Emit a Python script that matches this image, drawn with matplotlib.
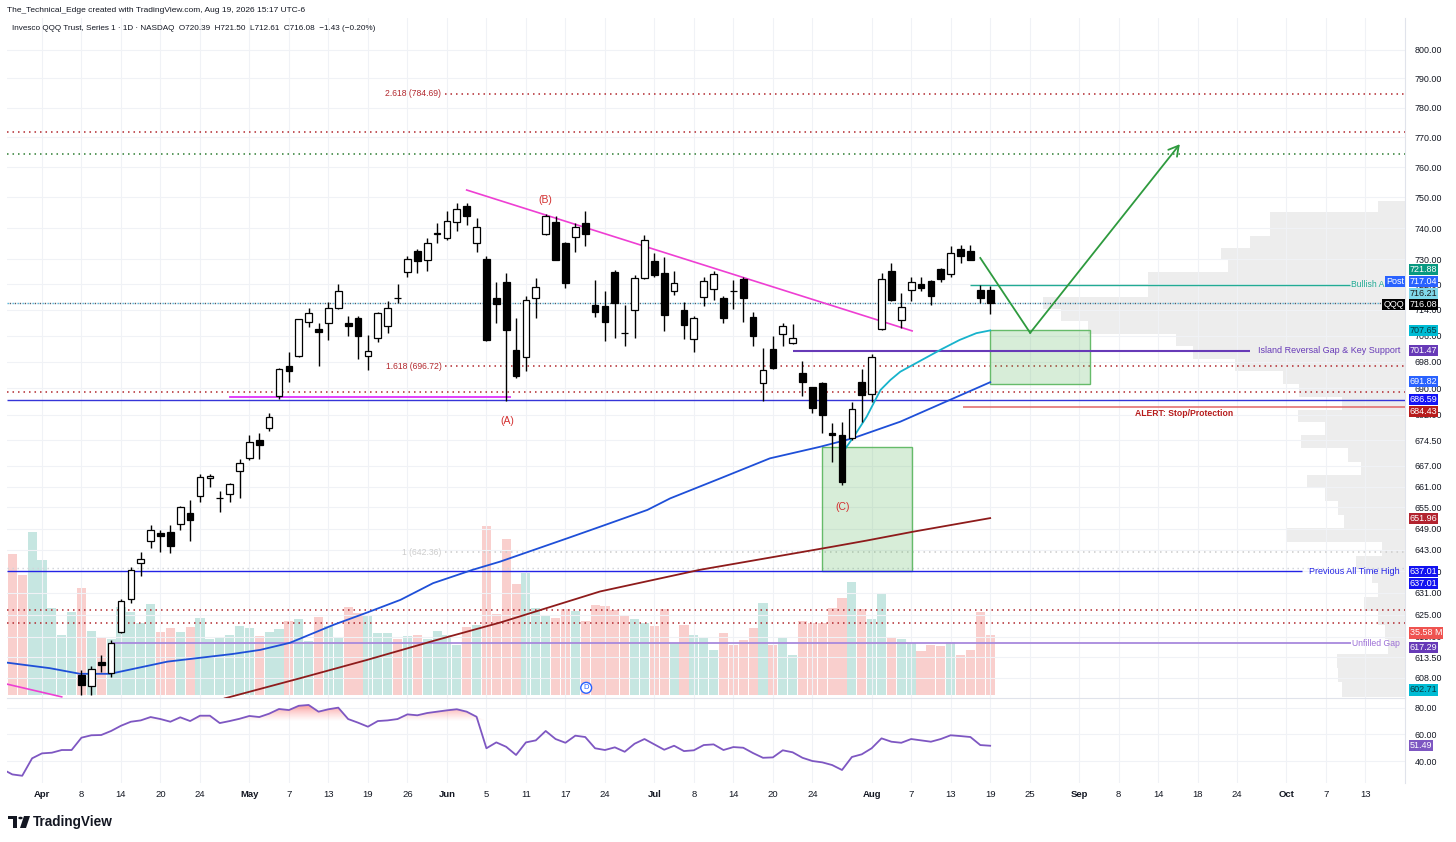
import numpy as np
import matplotlib
matplotlib.use("Agg")
import matplotlib.pyplot as plt
from matplotlib import transforms
from matplotlib.ticker import FixedLocator, NullLocator, FuncFormatter, NullFormatter
from matplotlib.patches import Rectangle, Circle, Polygon
from matplotlib.colors import LinearSegmentedColormap

plt.rcParams["font.family"] = ["Liberation Sans", "DejaVu Sans"]

# ---------------- data (x = trading-day index, 0 = Apr 1) ----------------
first_bar = 4
opens = [608.8, 605.9, 612.3, 609.4, 620.2, 629.2, 639.4, 645.5, 647.7, 648.0,
         650.2, 653.5, 658.4, 663.5, 657.6, 658.9, 665.4, 669.3, 674.6, 678.0,
         687.8, 696.6, 699.8, 710.4, 708.0, 709.9, 714.6, 710.1, 711.4, 699.8,
         705.3, 709.1, 717.8, 725.8, 732.7, 729.6, 738.1, 736.7, 742.1, 747.2,
         735.3, 730.0, 717.7, 722.9, 701.6, 699.4, 717.7, 738.1, 742.1, 735.1,
         737.0, 741.8, 715.6, 715.3, 725.8, 707.0, 714.0, 724.0, 729.3, 725.6,
         720.0, 714.0, 705.0, 718.2, 720.5, 717.7, 720.0, 723.7, 711.9, 691.5,
         701.9, 706.6, 703.8, 694.5, 690.3, 691.7, 676.7, 676.0, 675.1, 692.0,
         688.3, 708.0, 726.1, 711.0, 720.1, 722.1, 723.2, 726.9, 725.2, 733.2,
         732.7, 720.1, 720.39]
highs = [610.1, 611.1, 614.1, 618.1, 629.2, 638.1, 642.5, 650.0, 648.7, 650.0,
         655.5, 657.0, 664.5, 664.5, 659.6, 662.1, 669.0, 676.1, 676.6, 682.7,
         696.1, 701.1, 711.1, 714.6, 710.1, 716.4, 722.0, 712.0, 712.2, 706.3,
         713.5, 716.7, 722.1, 731.1, 733.2, 736.7, 741.6, 745.4, 748.3, 748.3,
         743.2, 731.1, 722.9, 725.6, 711.4, 718.4, 724.0, 744.6, 743.8, 735.6,
         741.6, 745.4, 723.5, 719.8, 726.6, 715.6, 725.0, 737.9, 732.0, 730.7,
         726.1, 716.4, 712.0, 724.3, 726.1, 718.4, 723.5, 724.5, 713.5, 702.3,
         705.8, 710.1, 709.6, 698.3, 690.5, 692.0, 679.7, 680.0, 685.9, 695.8,
         700.5, 725.6, 728.8, 719.3, 724.5, 724.5, 723.5, 727.2, 734.1, 734.7,
         734.7, 721.9, 721.50]
lows = [603.6, 603.6, 609.7, 608.3, 620.0, 628.3, 635.7, 643.6, 642.4, 642.1,
        648.5, 645.5, 656.7, 660.8, 653.8, 656.7, 657.7, 668.8, 669.0, 677.3,
        686.7, 691.9, 699.6, 708.8, 696.6, 704.8, 714.4, 705.8, 698.8, 695.4,
        704.0, 706.8, 716.2, 724.3, 725.6, 726.4, 735.1, 736.1, 739.2, 741.0,
        732.4, 704.3, 710.1, 686.2, 693.1, 695.1, 711.4, 737.8, 729.6, 720.8,
        732.4, 734.2, 711.9, 704.3, 705.3, 702.8, 705.3, 723.7, 724.5, 707.6,
        718.7, 705.0, 701.1, 715.3, 717.2, 710.1, 714.2, 710.4, 702.8, 686.2,
        695.8, 703.0, 703.6, 687.7, 682.5, 676.7, 668.0, 661.4, 674.6, 680.0,
        686.0, 707.8, 716.7, 708.3, 716.7, 719.8, 715.6, 722.9, 724.2, 728.8,
        729.6, 716.2, 712.61]
closes = [606.1, 610.4, 611.5, 617.4, 628.7, 637.3, 640.5, 648.7, 646.8, 644.2,
          655.1, 651.4, 663.8, 664.2, 657.8, 661.6, 667.8, 674.1, 673.0, 681.5,
          695.8, 695.1, 711.1, 713.2, 707.3, 714.6, 719.8, 708.9, 705.8, 701.4,
          713.0, 714.6, 717.7, 730.0, 729.5, 735.3, 738.3, 742.4, 746.1, 743.9,
          740.5, 704.8, 715.9, 707.8, 693.6, 717.2, 721.1, 743.9, 729.8, 722.4,
          740.5, 738.1, 713.5, 710.4, 716.1, 706.7, 724.0, 736.3, 725.0, 712.5,
          722.6, 709.4, 711.4, 723.1, 725.3, 711.6, 719.9, 717.7, 706.0, 695.4,
          696.1, 708.9, 705.3, 691.8, 684.0, 682.0, 676.2, 662.2, 683.8, 688.0,
          699.5, 723.7, 717.2, 714.9, 722.9, 720.8, 718.4, 723.7, 732.0, 731.1,
          729.8, 717.7, 716.08]

vol_start = -3
volume_m = [83.6, 71.2, 96.7, 80.1, 51.6, 35.6, 49.2, 63.5, 38.0, 34.4,
            33.2, 52.2, 49.2, 42.7, 54.0, 37.4, 39.7, 37.4, 40.3, 45.7,
            33.2, 34.4, 35.6, 40.9, 39.7, 35.0, 37.4, 39.1, 43.9, 45.1,
            32.0, 46.3, 40.9, 33.8, 52.2, 48.6, 47.4, 36.8, 36.8, 33.2,
            35.0, 35.6, 33.2, 38.0, 35.6, 29.7, 40.3, 41.5, 100.2, 48.0,
            92.5, 65.8, 72.3, 51.6, 46.8, 45.7, 51.0, 49.8, 43.9, 53.4,
            52.8, 50.4, 47.4, 45.1, 42.7, 40.9, 51.0, 30.8, 41.5, 35.6,
            33.8, 26.7, 36.8, 29.7, 32.6, 39.7, 54.6, 29.7, 33.8, 23.7,
            43.9, 42.7, 42.7, 51.6, 57.5, 67.0, 51.0, 45.1, 60.5, 33.8,
            33.2, 30.8, 26.1, 29.7, 29.1, 31.4, 23.7, 26.7, 49.2, 35.58]
early_up = [False, False, True, True, True, True, True]   # bars -3..3 (candles off-scale)

rsi_start = -4
rsi = [34.0, 30.1, 29.1, 42.1, 45.8, 46.3, 48.3, 48.3, 57.5, 59.3,
       59.5, 62.5, 66.4, 69.4, 70.4, 72.9, 71.4, 69.4, 72.7, 69.9,
       73.9, 73.9, 68.4, 69.9, 71.6, 73.7, 72.9, 75.4, 78.9, 78.1,
       81.3, 81.9, 76.9, 78.7, 79.9, 71.4, 68.7, 65.7, 69.9, 70.4,
       71.4, 74.9, 74.2, 75.9, 76.9, 77.9, 78.7, 76.9, 73.1, 49.6,
       54.0, 50.7, 44.6, 54.0, 55.5, 62.5, 56.5, 53.7, 59.0, 58.0,
       49.6, 48.3, 50.3, 47.0, 53.0, 56.5, 52.5, 48.5, 51.5, 47.5,
       48.1, 52.0, 52.5, 48.3, 50.5, 50.0, 46.0, 42.5, 42.8, 48.1,
       46.6, 42.5, 40.1, 39.1, 37.1, 33.4, 43.1, 45.1, 49.6, 57.0,
       54.5, 53.7, 56.5, 55.5, 54.5, 56.5, 59.3, 58.7, 58.0, 52.0, 51.49]

ma50_x = [-3.6, 0.8, 3.85, 6.9, 12.7, 19.3, 22.1, 25.1, 29.5, 32.9, 36.3, 39.6,
          43.6, 46.4, 53.2, 56.5, 61.3, 63.6, 68.7, 73.7, 78.8, 82.1, 86.9, 96]
ma50 = [612.1, 610.6, 609.1, 609.1, 612.35, 614.4, 615.5, 617.4, 622.25, 625.6,
        629.1, 633.7, 637.4, 639.7, 646.25, 649.5, 654.3, 657.6, 663.4, 669.2,
        672.6, 675.1, 680.0, 691.82]
ma200_x = [18.5, 26.1, 32.9, 39.6, 46.4, 56.5, 66.6, 76.8, 80.1, 83.5, 88.2, 96]
ma200 = [602.6, 607.9, 612.8, 617.9, 622.9, 631.4, 637.4, 642.3, 643.9, 645.6,
         648.1, 651.96]
ema_x = [81.0, 82.2, 83.5, 84.9, 85.9, 86.9, 91.1, 92.9, 94.6, 96]
ema = [670.7, 675.6, 681.5, 689.5, 692.5, 695.0, 701.9, 704.7, 706.8, 707.65]

# visible-range volume profile (rows of equal price height, top row first)
vp_top, vp_step = 748.9, 3.84
vp_volume = [27, 135, 135, 155, 184, 177, 257, 257, 362, 344, 317, 229, 212, 170,
             122, 106, 63, 107, 80, 104, 57, 44, 98, 80, 67, 61, 119, 23, 49, 33,
             27, 41, 27, 20, 17, 68, 67, 63]

price_ticks = [800, 790, 780, 770, 760, 750, 740, 730, 722, 714, 706, 698, 690,
               682, 674.5, 667, 661, 655, 649, 643, 637, 631, 625, 619, 613.5, 608]
xtick_bars = [0, 4, 8, 12, 16, 21, 25, 29, 33, 37, 41, 45, 49, 53, 57, 62, 66, 70,
              74, 78, 84, 88, 92, 96, 100, 105, 109, 113, 117, 121, 126, 130, 134]
xtick_labels = ["Apr", "8", "14", "20", "24", "May", "7", "13", "19", "26", "Jun",
                "5", "11", "17", "24", "Jul", "8", "14", "20", "24", "Aug", "7",
                "13", "19", "25", "Sep", "8", "14", "18", "24", "Oct", "7", "13"]
months = {"Apr", "May", "Jun", "Jul", "Aug", "Sep", "Oct"}

# drawings
fib_levels = [784.69, 696.72, 642.36]
fib_names = ["2.618 (784.69)", "1.618 (696.72)", "1 (642.36)"]
fib_start = 40.8
island_gap = 701.47
alert_stop = 684.43
bullish_above = 721.88
prev_ath = 637.01
unfilled_gap = 617.29
support_low = 686.59
trend_x, trend_y = [43.0, 88.1], [752.4, 707.5]
trend2_x, trend2_y = [-3.6, 2.0], [606.4, 603.0]
wave_a_x, wave_a_y = [19.0, 47.4], [687.3, 687.3]
arrow_x, arrow_y = [95.0, 100.05, 115.2], [730.4, 706.9, 767.6]
box1 = (96.0, 106.1, 691.3, 707.65)
box2 = (79.0, 88.1, 637.0, 672.5)
waves = [("(B)", 51.0, 749.1), ("(A)", 47.1, 680.2), ("(C)", 81.1, 655.2)]
dividend_bar = 55.1

# ---------------- layout ----------------
W, H = 1456, 842
fig = plt.figure(figsize=(W / 100, H / 100), dpi=100)
fig.patch.set_facecolor("white")


def px_rect(x0, y0, x1, y1):
    return [x0 / W, 1 - y1 / H, (x1 - x0) / W, (y1 - y0) / H]


P_RECT = px_rect(7, 18, 1405, 698)
R_RECT = px_rect(7, 698, 1405, 783)
YLIM = (602.7, 811.1)
XLIM = (-3.54, 138.0)
TXT = "#131722"
AX_COL = "#e0e3eb"
TAG_FS = 6.5
TAG_PAD = 0.12

ax_vp = fig.add_axes(P_RECT, zorder=0)
ax_vol = fig.add_axes(P_RECT, zorder=1)
ax = fig.add_axes(P_RECT, zorder=2)
ax_rsi = fig.add_axes(R_RECT, zorder=2)
for a in (ax_vp, ax_vol, ax, ax_rsi):
    a.set_facecolor("none")

# volume profile
ax_vp.set_yscale("log")
vp_bottoms = [vp_top - vp_step * (i + 1) for i in range(len(vp_volume))]
ax_vp.barh(vp_bottoms, vp_volume, height=vp_step, align="edge", color="#ededed", lw=0)
ax_vp.set_xlim(1398, 0)
ax_vp.set_ylim(*YLIM)
ax_vp.axis("off")

# volume
vbars = np.arange(vol_start, vol_start + len(volume_m))
o, h, l, c = map(np.array, (opens, highs, lows, closes))
up = c >= o
vol_up = list(early_up) + list(up)
ax_vol.bar(vbars, volume_m, width=0.92,
           color=["#c6e6e1" if u else "#f9cfcd" for u in vol_up], lw=0)
ax_vol.set_xlim(*XLIM)
ax_vol.set_ylim(-1.78, 401.4)
ax_vol.axis("off")

# price axes
ax.set_yscale("log")
ax.set_xlim(*XLIM)
ax.set_ylim(*YLIM)
ax.yaxis.set_major_locator(FixedLocator(price_ticks))
ax.yaxis.set_minor_locator(NullLocator())
ax.yaxis.set_major_formatter(FuncFormatter(lambda v, p: f"{v:.2f}"))
ax.yaxis.set_minor_formatter(NullFormatter())
ax.yaxis.tick_right()
ax.tick_params(axis="y", which="both", length=0, pad=7, labelsize=6.4, labelcolor=TXT)
ax.set_xticks(xtick_bars)
ax.tick_params(axis="x", length=0, labelbottom=False)
ax.grid(True, color="#f0f2f6", lw=0.8, zorder=0)
for s in ("top", "left", "bottom"):
    ax.spines[s].set_visible(False)
ax.spines["right"].set_color(AX_COL)

dot = (0, (1, 2.6))
full = dict(xmin=XLIM[0], xmax=XLIM[1])
ax.hlines(771.7, color="#b2282e", lw=1.1, ls=dot, zorder=2, **full)
ax.hlines(764.3, color="#2e7d32", lw=1.1, ls=dot, zorder=2, **full)
ax.hlines(716.21, color="#4fb3d9", lw=1.0, ls=dot, zorder=2, **full)
ax.hlines(716.08, color="#505a66", lw=1.0, ls=(2, (1, 2.6)), zorder=2, **full)
ax.hlines(688.8, color="#b2282e", lw=1.1, ls=dot, zorder=2, **full)
ax.hlines(638.0, color="#cfd2d8", lw=1.0, ls=dot, zorder=2, **full)
ax.hlines([626.2, 622.7], color="#b2282e", lw=1.1, ls=dot, zorder=2, **full)
fib_cols = ["#b2282e", "#b2282e", "#cccccc"]
for lvl, name, col in zip(fib_levels, fib_names, fib_cols):
    ax.hlines(lvl, fib_start, XLIM[1], color=col, lw=1.1, ls=dot, zorder=2)
    ax.text(fib_start - 0.35, lvl, name, color=col, fontsize=6.2, ha="right", va="center")

ax.hlines(support_low, *XLIM, color="#3535d8", lw=1.0, zorder=3)
ax.plot(wave_a_x, wave_a_y, color="#e040fb", lw=1.4, zorder=3)
ax.hlines(prev_ath, XLIM[0], 127.6, color="#2323e6", lw=1.0, zorder=3)
ax.hlines(unfilled_gap, 7.0, 132.5, color="#a889dd", lw=1.3, zorder=3)
ax.hlines(island_gap, 76.05, 122.3, color="#673ab7", lw=1.5, zorder=3)
ax.hlines(bullish_above, 94.0, 132.4, color="#22ab94", lw=1.0, zorder=3)
ax.hlines(alert_stop, 93.2, XLIM[1], color="#e06666", lw=1.1, zorder=3)
ax.plot(trend_x, trend_y, color="#ee3fd3", lw=1.2, zorder=3)
ax.plot(trend2_x, trend2_y, color="#ee3fd3", lw=1.2, zorder=3)

for bx in (box1, box2):
    ax.add_patch(Rectangle((bx[0], bx[2]), bx[1] - bx[0], bx[3] - bx[2],
                           fc="#4caf50", alpha=0.22, ec="none", zorder=2))
    ax.add_patch(Rectangle((bx[0], bx[2]), bx[1] - bx[0], bx[3] - bx[2],
                           fc="none", ec="#66bb6a", lw=1.0, zorder=2))

ax.plot(ma50_x, ma50, color="#1e4fd8", lw=1.3, zorder=3)
ax.plot(ma200_x, ma200, color="#8e1b1b", lw=1.3, zorder=3)
ax.plot(ema_x, ema, color="#17b3cc", lw=1.3, zorder=3)

green = "#2e9a3e"
ax.plot(arrow_x[:2], arrow_y[:2], color=green, lw=1.3, zorder=3)
ax.annotate("", xy=(arrow_x[2], arrow_y[2]), xytext=(arrow_x[1], arrow_y[1]),
            arrowprops=dict(arrowstyle="->,head_length=0.7,head_width=0.4",
                            color=green, lw=1.3, shrinkA=0, shrinkB=0), zorder=3)

# candles
bars = np.arange(first_bar, first_bar + len(opens))
ax.vlines(bars, l, h, color="black", lw=1.0, zorder=4)
body_lo = np.minimum(o, c)
body_h = np.maximum(np.abs(c - o), 0.15)
ax.bar(bars, body_h, bottom=body_lo, width=0.68,
       color=["white" if u else "black" for u in up], edgecolor="black", lw=0.9, zorder=5)

for name, bx, py in waves:
    ax.text(bx, py, name, color="#d32f2f", fontsize=7.5, ha="center", va="center", zorder=6)

ax.annotate("D", xy=(dividend_bar, 0.015),
            xycoords=transforms.blended_transform_factory(ax.transData, ax.transAxes),
            ha="center", va="center", fontsize=5.5, color="#2962ff", zorder=6,
            bbox=dict(boxstyle="circle,pad=0.25", fc="white", ec="#2962ff", lw=1.0))

# line captions near the price scale
yblend = transforms.blended_transform_factory(ax.transAxes, ax.transData)
ax.text(0.9986, bullish_above, "Bullish Above", transform=yblend, color="#22ab94",
        fontsize=6.2, ha="right", va="center", zorder=6)
ax.text(0.9965, island_gap, "Island Reversal Gap & Key Support", transform=yblend,
        color="#673ab7", fontsize=6.5, ha="right", va="center", zorder=6)
ax.text(0.9965, prev_ath, "Previous All Time High", transform=yblend,
        color="#2323e6", fontsize=6.5, ha="right", va="center", zorder=6)
ax.text(0.9965, unfilled_gap, "Unfilled Gap", transform=yblend,
        color="#9c6fd6", fontsize=6.2, ha="right", va="center", zorder=6)
ax.text(115.6, 682.4, "ALERT: Stop/Protection", color="#b71c1c", fontsize=6.2,
        fontweight="bold", ha="center", va="center", zorder=6)

# coloured value tags on the price scale: (value, text, bg, fg, shift down px)
tags = [(bullish_above, "721.88", "#089981", "white", -15),
        (717.04, "717.04", "#2962ff", "white", -19),
        (716.21, "716.21", "#80d8ea", "#1b1b1b", -9),
        (716.08, "716.08", "#000000", "white", 1),
        (707.65, "707.65", "#00bcd4", "#083a42", 0),
        (island_gap, "701.47", "#673ab7", "white", 0),
        (691.82, "691.82", "#2962ff", "white", -1),
        (support_low, "686.59", "#1414f5", "white", 0),
        (alert_stop, "684.43", "#b71c1c", "white", 5),
        (651.96, "651.96", "#b2232f", "white", 0),
        (prev_ath, "637.01", "#1212f0", "white", 0),
        (prev_ath, "637.01", "#1212f0", "white", 12),
        (unfilled_gap, "617.29", "#673ab7", "white", 4),
        (602.71, "602.71", "#00bcd4", "#083a42", -8)]
for val, txt, bg, fg, dy in tags:
    ax.annotate(txt, xy=(1.0033, val), xycoords=yblend, xytext=(0, -dy),
                textcoords="offset pixels", ha="left", va="center", fontsize=TAG_FS,
                color=fg, annotation_clip=False, zorder=10,
                bbox=dict(boxstyle=f"square,pad={TAG_PAD}", fc=bg, ec="none"))
for val, txt, bg, dy in [(717.04, "Post", "#2962ff", -19), (716.08, "QQQ", "#000000", 1)]:
    ax.annotate(txt, xy=(0.9993, val), xycoords=yblend, xytext=(0, -dy),
                textcoords="offset pixels", ha="right", va="center", fontsize=TAG_FS,
                color="white", annotation_clip=False, zorder=10,
                bbox=dict(boxstyle=f"square,pad={TAG_PAD}", fc=bg, ec="none"))
vblend = transforms.blended_transform_factory(ax.transAxes, ax_vol.transData)
ax.annotate("35.58 M", xy=(1.0033, volume_m[-1]), xycoords=vblend, xytext=(0, 2),
            textcoords="offset pixels", ha="left", va="center", fontsize=TAG_FS,
            color="white", annotation_clip=False, zorder=10,
            bbox=dict(boxstyle=f"square,pad={TAG_PAD}", fc="#ef5350", ec="none"))

# RSI pane
rx = np.arange(rsi_start, rsi_start + len(rsi))
rv = np.array(rsi)
ax_rsi.plot(rx, rv, color="#7e57c2", lw=1.3, zorder=3)
fb = ax_rsi.fill_between(rx, 70, np.maximum(rv, 70), color="none", lw=0)
cmap = LinearSegmentedColormap.from_list("ob", [(1, 0.6, 0.6, 0.0), (0.97, 0.42, 0.42, 0.7)])
img = ax_rsi.imshow(np.linspace(0, 1, 256).reshape(-1, 1), extent=[rx[0], rx[-1], 70, 82],
                    origin="lower", cmap=cmap, aspect="auto", zorder=2)
img.set_clip_path(fb.get_paths()[0], transform=ax_rsi.transData)
ax_rsi.set_xlim(*XLIM)
ax_rsi.set_ylim(23.7, 87.1)
ax_rsi.yaxis.tick_right()
ax_rsi.set_yticks([40, 60, 80])
ax_rsi.yaxis.set_major_formatter(FuncFormatter(lambda v, p: f"{v:.2f}"))
ax_rsi.tick_params(axis="y", length=0, pad=7, labelsize=6.4, labelcolor=TXT)
ax_rsi.set_xticks(xtick_bars)
ax_rsi.set_xticklabels(xtick_labels)
ax_rsi.tick_params(axis="x", length=0, pad=5, labelsize=6.8, labelcolor=TXT)
for lab in ax_rsi.get_xticklabels():
    if lab.get_text() in months:
        lab.set_fontweight("bold")
ax_rsi.grid(True, color="#f0f2f6", lw=0.8, zorder=0)
for s in ("left", "bottom"):
    ax_rsi.spines[s].set_visible(False)
ax_rsi.spines["top"].set_color(AX_COL)
ax_rsi.spines["right"].set_color(AX_COL)
ax_rsi.annotate("51.49", xy=(1.0033, rsi[-1]),
                xycoords=transforms.blended_transform_factory(ax_rsi.transAxes, ax_rsi.transData),
                ha="left", va="center", fontsize=TAG_FS, color="white", annotation_clip=False,
                bbox=dict(boxstyle=f"square,pad={TAG_PAD}", fc="#7e57c2", ec="none"))

# header and footer
fig.text(7 / W, 1 - 10 / H, "The_Technical_Edge created with TradingView.com, Aug 19, 2026 15:17 UTC-6",
         fontsize=6.0, color=TXT, va="center")
fig.text(12 / W, 1 - 28 / H,
         "Invesco QQQ Trust, Series 1 · 1D · NASDAQ  O720.39  H721.50  L712.61  C716.08  \u22121.43 (\u22120.20%)",
         fontsize=5.9, color=TXT, va="center")
fig.text(33 / W, 1 - 822 / H, "TradingView", fontsize=9.8, fontweight="bold", color=TXT, va="center")
fig.patches.extend([
    Rectangle((8 / W, 1 - 819 / H), 9 / W, 3 / H, transform=fig.transFigure, fc=TXT, ec="none"),
    Rectangle((12.5 / W, 1 - 828 / H), 4.5 / W, 12 / H, transform=fig.transFigure, fc=TXT, ec="none"),
    Circle((20.5 / W, 1 - 818 / H), 2.2 / W, transform=fig.transFigure, fc=TXT, ec="none"),
    Polygon([(24 / W, 1 - 816 / H), (30 / W, 1 - 816 / H), (26 / W, 1 - 828 / H), (20 / W, 1 - 828 / H)],
            closed=True, transform=fig.transFigure, fc=TXT, ec="none"),
])

fig.savefig("out.png", dpi=100)
